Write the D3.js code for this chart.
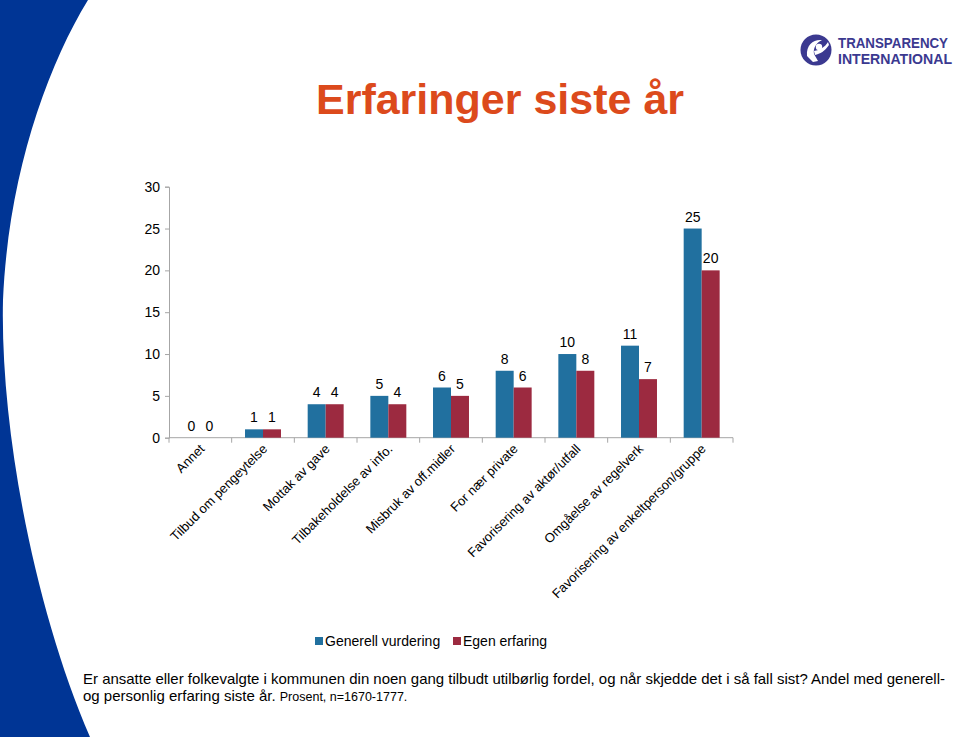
<!DOCTYPE html>
<html>
<head>
<meta charset="utf-8">
<script src="https://cdn.jsdelivr.net/npm/d3@7"></script>
<style>
  body { margin: 0; background: #fff; }
  svg { display: block; font-family: "Liberation Sans", Arial, sans-serif; }
</style>
</head>
<body>
<svg id="canvas" width="959" height="737"></svg>
<script>
// data
var categories = ["Annet", "Tilbud om pengeytelse", "Mottak av gave", "Tilbakeholdelse av info.",
  "Misbruk av off.midler", "For nær private", "Favorisering av aktør/utfall",
  "Omgåelse av regelverk", "Favorisering av enkeltperson/gruppe"];
var series = ["Generell vurdering", "Egen erfaring"];
var generell = [0, 1, 4, 5, 6, 8, 10, 11, 25];
var egen = [0, 1, 4, 4, 5, 6, 8, 7, 20];
var yTicks = [0, 5, 10, 15, 20, 25, 30];
var colors = ["#21709f", "#9c2a40"];

var svg = d3.select('#canvas');

// ************************************************************************************** //
// Background decoration

svg.append('path')
  .attr('d', 'M0,0 L88,0 C45,70 8,180 3,300 C0,430 35,610 90,737 L0,737 Z')
  .attr('fill', '#003595');

// logo
var logo = svg.append('g').attr('transform', 'translate(816,50)');
logo.append('circle').attr('r', 15.5).attr('fill', '#3b3990');
logo.append('path')
  .attr('d', 'M-9,6 C-10,-6 -2,-11 6,-10 C0,-7 -3,-2 -2,4 L2,11 L-3,12 Z')
  .attr('fill', '#fff');
logo.append('circle').attr('cx', 3).attr('cy', -3).attr('r', 3.2).attr('fill', '#fff');
logo.append('path')
  .attr('d', 'M-2,1 C4,0 9,-3 12,-8 L13,-5 C9,1 4,4 -1,5 Z')
  .attr('fill', '#fff');
svg.append('text').attr('x', 838).attr('y', 48).text('TRANSPARENCY')
  .attr('font-size', 15).attr('font-weight', 'bold').attr('fill', '#3b3990')
  .attr('textLength', 110).attr('lengthAdjust', 'spacingAndGlyphs');
svg.append('text').attr('x', 838).attr('y', 64).text('INTERNATIONAL')
  .attr('font-size', 15).attr('font-weight', 'bold').attr('fill', '#3b3990')
  .attr('textLength', 114).attr('lengthAdjust', 'spacingAndGlyphs');

// title
svg.append('text').attr('x', 500).attr('y', 114).attr('text-anchor', 'middle')
  .attr('font-size', 43).attr('font-weight', 'bold').attr('fill', '#dc4a1c')
  .text('Erfaringer siste år');

// ************************************************************************************** //
// Chart

var x0 = d3.scaleBand().domain(categories).range([169, 733]).padding(0);
var x1 = d3.scaleBand().domain(series)
  .range([x0.bandwidth() * 0.213, x0.bandwidth() * 0.787]).padding(0);
var y = d3.scaleLinear().domain([0, 30]).range([437.7, 186.7]);

var rows = categories.map(function(c, i){ return { cat: c, vals: [generell[i], egen[i]] }; });

// y axis
var yAxis = svg.append('g').attr('transform', 'translate(169,0)')
  .call(d3.axisLeft(y).tickValues(yTicks).tickSize(4).tickPadding(5));
yAxis.select('.domain').attr('stroke', '#a6a6a6');
yAxis.selectAll('.tick line').attr('stroke', '#a6a6a6');
yAxis.selectAll('.tick text').attr('font-size', 14).attr('fill', '#000')
  .attr('font-family', '"Liberation Sans", Arial, sans-serif');

// x axis (ticks at category boundaries)
var xAxis = svg.append('g').attr('transform', 'translate(0,' + y(0) + ')');
xAxis.append('line').attr('x1', 169).attr('x2', 733).attr('stroke', '#a6a6a6');
var bounds = categories.map(function(c){ return x0(c); }).concat([x0.range()[1]]);
xAxis.selectAll('line.tk').data(bounds).enter().append('line').attr('class', 'tk')
  .attr('x1', function(d){ return d; }).attr('x2', function(d){ return d; })
  .attr('y1', 0).attr('y2', 5).attr('stroke', '#a6a6a6');
xAxis.selectAll('text').data(categories).enter().append('text')
  .attr('transform', function(d){ return 'translate(' + (x0(d) + x0.bandwidth() / 2 + 5) + ',12) rotate(-45)'; })
  .attr('text-anchor', 'end').attr('font-size', 13).attr('fill', '#000')
  .text(function(d){ return d; });

// bars
var groups = svg.selectAll('g.cat').data(rows).enter().append('g').attr('class', 'cat')
  .attr('transform', function(d){ return 'translate(' + x0(d.cat) + ',0)'; });
groups.selectAll('rect').data(function(d){ return d.vals.map(function(v, i){ return { s: series[i], v: v, i: i }; }); })
  .enter().append('rect')
  .attr('x', function(d){ return x1(d.s); })
  .attr('width', x1.bandwidth())
  .attr('y', function(d){ return y(d.v); })
  .attr('height', function(d){ return y(0) - y(d.v); })
  .attr('fill', function(d){ return colors[d.i]; });
groups.selectAll('text').data(function(d){ return d.vals.map(function(v, i){ return { s: series[i], v: v, i: i }; }); })
  .enter().append('text')
  .attr('x', function(d){ return x1(d.s) + x1.bandwidth() / 2; })
  .attr('y', function(d){ return y(d.v) - 7; })
  .attr('text-anchor', 'middle').attr('font-size', 14).attr('fill', '#000')
  .text(function(d){ return d.v; });

// legend
var legend = svg.append('g').attr('transform', 'translate(315,641)');
var lx = [0, 138];
series.forEach(function(s, i){
  legend.append('rect').attr('x', lx[i]).attr('y', -4).attr('width', 8).attr('height', 8).attr('fill', colors[i]);
  legend.append('text').attr('x', lx[i] + 10).attr('y', 5).attr('font-size', 14).attr('fill', '#000').text(s);
});

// footnote
svg.append('text').attr('x', 83).attr('y', 684).attr('font-size', 15).attr('fill', '#000')
  .attr('textLength', 862).attr('lengthAdjust', 'spacingAndGlyphs')
  .text('Er ansatte eller folkevalgte i kommunen din noen gang tilbudt utilbørlig fordel, og når skjedde det i så fall sist? Andel med generell-');
var f2 = svg.append('text').attr('x', 83).attr('y', 701).attr('fill', '#000');
f2.append('tspan').attr('font-size', 15).text('og personlig erfaring siste år. ');
f2.append('tspan').attr('font-size', 12.5).text('Prosent, n=1670-1777.');
</script>
</body>
</html>
